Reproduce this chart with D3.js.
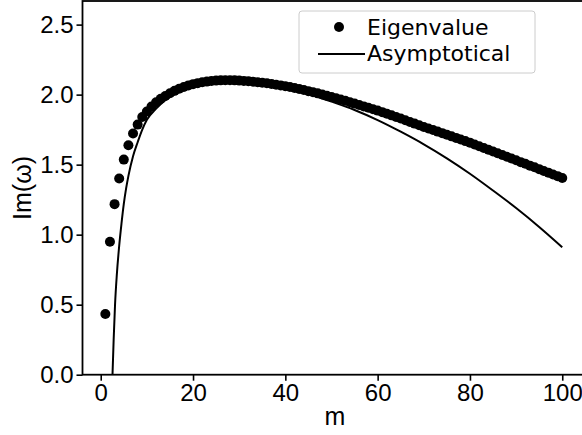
<!DOCTYPE html>
<html lang="en">
<head>
<meta charset="UTF-8">
<title>Im(omega) vs m</title>
<script src="https://d3js.org/d3.v7.min.js"></script>
<style>
  body { margin: 0; background: #fff; }
  .tick text { font-family: "Liberation Sans", Arial, sans-serif; font-size: 24px; fill: #000; }
  .tick line { stroke: #000; stroke-width: 1.6; }
</style>
</head>
<body>
<div id="chart"></div>
<script>
// eigenvalue points, m = 1..100
const mValues = d3.range(1, 101);
const eigenValues = [
  0.433, 0.949, 1.218, 1.401, 1.536, 1.638, 1.722, 1.786, 1.840, 1.880,
  1.915, 1.945, 1.970, 1.990, 2.010, 2.027, 2.042, 2.055, 2.066, 2.075,
  2.082, 2.088, 2.093, 2.097, 2.100, 2.102, 2.103, 2.103, 2.102, 2.100,
  2.098, 2.095, 2.092, 2.089, 2.085, 2.081, 2.076, 2.071, 2.066, 2.060,
  2.054, 2.047, 2.040, 2.033, 2.025, 2.017, 2.009, 2.001, 1.992, 1.983,
  1.974, 1.965, 1.956, 1.946, 1.936, 1.926, 1.916, 1.906, 1.896, 1.886,
  1.875, 1.863, 1.852, 1.840, 1.829, 1.817, 1.805, 1.793, 1.781, 1.769,
  1.758, 1.747, 1.736, 1.725, 1.713, 1.702, 1.691, 1.680, 1.668, 1.657,
  1.644, 1.632, 1.619, 1.607, 1.594, 1.581, 1.569, 1.556, 1.544, 1.531,
  1.518, 1.506, 1.493, 1.481, 1.468, 1.455, 1.443, 1.430, 1.418, 1.405
];

// asymptotic curve
const asymM = [2.55, 2.8, 3.1, 3.5, 4, 4.5, 5, 5.5, 6, 7, 8, 9, 10, 12, 14, 17, 20, 25, 30, 35,
  40, 45, 50, 55, 60, 65, 70, 75, 80, 85, 90, 95, 100];
const asymValues = [0, 0.25, 0.5, 0.72, 0.92, 1.08, 1.22, 1.33, 1.42, 1.56, 1.66, 1.75, 1.82, 1.90,
  1.96, 2.02, 2.055, 2.085, 2.09, 2.075, 2.05, 2.005, 1.95, 1.89, 1.818, 1.735, 1.645, 1.545,
  1.435, 1.315, 1.19, 1.055, 0.91];

const xTicks = [0, 20, 40, 60, 80, 100];
const yTicks = [0.0, 0.5, 1.0, 1.5, 2.0, 2.5];
const seriesNames = ["Eigenvalue", "Asymptotical"];

const width = 582, height = 435;
const plotLeft = 82.5, plotRight = 585.1, plotTop = 1, plotBottom = 374.7;

const svg = d3.select("#chart").append("svg")
  .attr("width", width)
  .attr("height", height);

const x = d3.scaleLinear().domain([-3.95, 104.95]).range([plotLeft, plotRight]);
const y = d3.scaleLinear().domain([0, 2.6686]).range([plotBottom, plotTop]);

svg.append("defs").append("clipPath").attr("id", "plotclip")
  .append("rect")
  .attr("x", plotLeft).attr("y", plotTop)
  .attr("width", plotRight - plotLeft).attr("height", plotBottom - plotTop);

// axes
svg.append("g")
  .attr("transform", `translate(0,${plotBottom})`)
  .call(d3.axisBottom(x).tickValues(xTicks).tickSize(6).tickPadding(3).tickFormat(d3.format("d")))
  .call(g => g.select(".domain").remove());

svg.append("g")
  .attr("transform", `translate(${plotLeft},0)`)
  .call(d3.axisLeft(y).tickValues(yTicks).tickSize(6).tickPadding(3).tickFormat(d3.format(".1f")))
  .call(g => g.select(".domain").remove());

const plot = svg.append("g").attr("clip-path", "url(#plotclip)");

// eigenvalue dots
plot.selectAll("circle.eig")
  .data(mValues.map((m, i) => ({ m: m, v: eigenValues[i] })))
  .enter()
  .append("circle")
  .attr("class", "eig")
  .attr("cx", d => x(d.m))
  .attr("cy", d => y(d.v))
  .attr("r", 5)
  .attr("fill", "#000");

// asymptotical line
const line = d3.line()
  .x(d => x(d.m))
  .y(d => y(d.v))
  .curve(d3.curveMonotoneX);

plot.append("path")
  .datum(asymM.map((m, i) => ({ m: m, v: asymValues[i] })))
  .attr("d", line)
  .attr("fill", "none")
  .attr("stroke", "#000")
  .attr("stroke-width", 2);

// frame
svg.append("rect")
  .attr("x", plotLeft).attr("y", plotTop)
  .attr("width", plotRight - plotLeft).attr("height", plotBottom - plotTop)
  .attr("fill", "none")
  .attr("stroke", "#000")
  .attr("stroke-width", 1.8);

// axis labels
svg.append("text")
  .attr("x", 335).attr("y", 425)
  .attr("text-anchor", "middle")
  .style("font-family", "Liberation Sans, Arial, sans-serif")
  .style("font-size", "25px")
  .text("m");

svg.append("text")
  .attr("transform", "translate(31,188) rotate(-90)")
  .attr("text-anchor", "middle")
  .style("font-family", "Liberation Sans, Arial, sans-serif")
  .style("font-size", "25px")
  .text("Im(ω)");

// legend
const legend = svg.append("g");
legend.append("rect")
  .attr("x", 299).attr("y", 11)
  .attr("width", 236).attr("height", 62)
  .attr("rx", 3)
  .attr("fill", "#fff").attr("fill-opacity", 0.8)
  .attr("stroke", "#ccc").attr("stroke-width", 1);

legend.append("circle")
  .attr("cx", 339).attr("cy", 27).attr("r", 5).attr("fill", "#000");
legend.append("line")
  .attr("x1", 318).attr("x2", 365)
  .attr("y1", 54).attr("y2", 54)
  .attr("stroke", "#000").attr("stroke-width", 2);

legend.selectAll("text.leg")
  .data(seriesNames)
  .enter()
  .append("text")
  .attr("class", "leg")
  .attr("x", 367)
  .attr("y", (d, i) => 35 + i * 26)
  .style("font-family", "DejaVu Sans, sans-serif")
  .style("font-size", "22px")
  .text(d => d);
</script>
</body>
</html>
